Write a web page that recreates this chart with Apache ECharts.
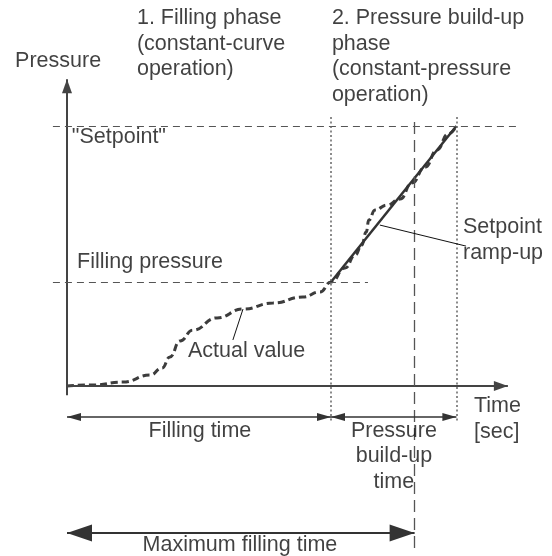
<!DOCTYPE html>
<html>
<head>
<meta charset="utf-8">
<title>Filling and pressure build-up phases</title>
<script src="https://cdn.jsdelivr.net/npm/echarts@6/dist/echarts.min.js"></script>
<style>
  html, body { margin: 0; padding: 0; background: #fff; }
  #chart { width: 552px; height: 556px; }
</style>
</head>
<body>
<div id="chart"></div>
<script>
// ---- process values (time in s, pressure in bar) ----
const actualTime     = [0, 0.59, 1.27, 1.89, 2.16, 2.34, 2.57, 2.86, 3.41, 4.0, 4.68, 5.36, 5.75, 6.0,
                        6.32, 6.55, 6.70, 6.80, 6.86, 7.0, 7.27, 7.57, 7.84, 8.14, 8.41, 8.66, 8.85];
const actualPressure = [0, 0.4, 1.5, 4.2, 6.9, 11.2, 17.3, 21.5, 26.2, 29.6, 31.9, 34.2, 36.2, 40,
                        45.4, 50.4, 54.2, 59.2, 63.8, 67.7, 69.6, 71.9, 78.1, 84.2, 90.8, 96.9, 100];
const rampTime       = [6.0, 8.85];
const rampPressure   = [40, 100];
const fillingTime    = 6.0;
const buildUpEnd     = 8.85;
const maxFillingTime = 7.9;
const fillingPressure = 40;
const setpointPressure = 100;

// ---- layout: where t=0 / p=0 sits and the scale of each axis ----
const W = 552, H = 556;
const X0 = 67, Y0 = 386;     // origin in px
const SX = 44, SY = 2.6;     // px per second, px per bar

const FONT = 'Liberation Sans, Arial, sans-serif';
const FS = 21.5, LH = 25.5;
const INK = '#111';
const LINE = '#3c3c3c';

// straight segments drawn as mark lines
function seg(a, b, style, opts) {
  return [Object.assign({ coord: a, symbol: 'none' }, (opts && opts.from) || {}),
          Object.assign({ coord: b, symbol: 'none', lineStyle: style }, (opts && opts.to) || {})];
}
const arrowEnd = (w, h) => ({ symbol: 'triangle', symbolSize: [w, h], symbolOffset: [0, '50%'] });

const axisStyle  = { color: '#444', width: 2, type: 'solid' };
const guideStyle = { color: '#555', width: 1.1, type: [7, 5] };
const dotStyle   = { color: '#666', width: 1.5, type: [2, 2.5] };
const longDash   = { color: '#555', width: 1.3, type: [12, 6] };
const extStyle   = { color: '#555', width: 1.3, type: [9, 8] };
const dimStyle   = { color: '#333', width: 1.5, type: 'solid' };
const dimBold    = { color: '#333', width: 2, type: 'solid' };
const leadStyle  = { color: '#111', width: 1, type: 'solid' };

const markLines = [
  // axes
  seg([0, -3.6], [0, 118], axisStyle, { to: arrowEnd(10, 14) }),
  seg([0, 0], [10.02, 0], axisStyle, { to: arrowEnd(10, 14) }),
  // setpoint and filling pressure levels
  seg([-0.32, setpointPressure], [10.27, setpointPressure], guideStyle),
  seg([-0.32, fillingPressure], [6.84, fillingPressure], guideStyle),
  // phase boundaries
  seg([fillingTime, 103.5], [fillingTime, -13.5], dotStyle),
  seg([buildUpEnd, 103.5], [buildUpEnd, -13.5], dotStyle),
  seg([maxFillingTime, 101.5], [maxFillingTime, -64], longDash),
  seg([0, -3.8], [0, -66], extStyle),
  // time spans
  seg([0, -11.9], [fillingTime, -11.9], dimStyle, { from: arrowEnd(8, 14), to: arrowEnd(8, 14) }),
  seg([fillingTime, -11.9], [buildUpEnd, -11.9], dimStyle, { from: arrowEnd(8, 14), to: arrowEnd(8, 14) }),
  seg([0, -56.5], [maxFillingTime, -56.5], dimBold, { from: arrowEnd(17, 25), to: arrowEnd(17, 25) }),
  // callout leaders
  seg([3.77, 17.7], [4.0, 29.6], leadStyle),
  seg([7.11, 61.9], [9.07, 53.8], leadStyle)
];

// text annotations, anchored at their top-left (or top-centre) corner
const notes = [
  { text: 'Pressure', at: [-1.18, 129.8], align: 'left' },
  { text: '1. Filling phase\n(constant-curve\noperation)', at: [1.59, 146.3], align: 'left' },
  { text: '2. Pressure build-up\nphase\n(constant-pressure\noperation)', at: [6.02, 146.3], align: 'left' },
  { text: '"Setpoint"', at: [0.11, 100.5], align: 'left' },
  { text: 'Filling pressure', at: [0.23, 52.4], align: 'left' },
  { text: 'Actual value', at: [2.75, 18.2], align: 'left' },
  { text: 'Setpoint\nramp-up', at: [9.0, 65.9], align: 'left' },
  { text: 'Time\n[sec]', at: [9.25, -2.9], align: 'left' },
  { text: 'Filling time', at: [3.02, -12.4], align: 'center' },
  { text: 'Pressure\nbuild-up\ntime', at: [7.43, -12.4], align: 'center' },
  { text: 'Maximum filling time', at: [3.93, -56.3], align: 'center' }
];

const chart = echarts.init(document.getElementById('chart'), null, { renderer: 'canvas' });
chart.setOption({
  animation: false,
  backgroundColor: '#fff',
  grid: { left: 0, right: 0, top: 0, bottom: 0, containLabel: false },
  xAxis: { type: 'value', min: -X0 / SX, max: (W - X0) / SX, show: false },
  yAxis: { type: 'value', min: -(H - Y0) / SY, max: Y0 / SY, show: false },
  series: [
    {
      name: 'frame',
      type: 'line',
      data: [],
      silent: true,
      markLine: {
        silent: true,
        animation: false,
        symbol: 'none',
        label: { show: false },
        emphasis: { disabled: true },
        data: markLines
      }
    },
    {
      name: 'Actual value',
      type: 'line',
      data: actualTime.map((t, i) => [t, actualPressure[i]]),
      smooth: 0.5,
      smoothMonotone: 'x',
      symbol: 'none',
      silent: true,
      clip: false,
      lineStyle: { color: LINE, width: 3, type: [7, 4] },
      z: 3
    },
    {
      name: 'Setpoint ramp-up',
      type: 'line',
      data: rampTime.map((t, i) => [t, rampPressure[i]]),
      symbol: 'none',
      silent: true,
      clip: false,
      lineStyle: { color: '#333', width: 2.5 },
      z: 4
    },
    {
      name: 'notes',
      type: 'scatter',
      silent: true,
      clip: false,
      symbolSize: 1,
      itemStyle: { color: 'rgba(0,0,0,0)' },
      data: notes.map(n => ({
        value: n.at,
        name: n.text,
        label: { align: n.align }
      })),
      label: {
        show: true,
        formatter: '{b}',
        position: ['50%', '50%'],
        verticalAlign: 'top',
        fontFamily: FONT,
        fontSize: FS,
        lineHeight: LH,
        color: INK
      },
      z: 5
    }
  ]
});
</script>
</body>
</html>
